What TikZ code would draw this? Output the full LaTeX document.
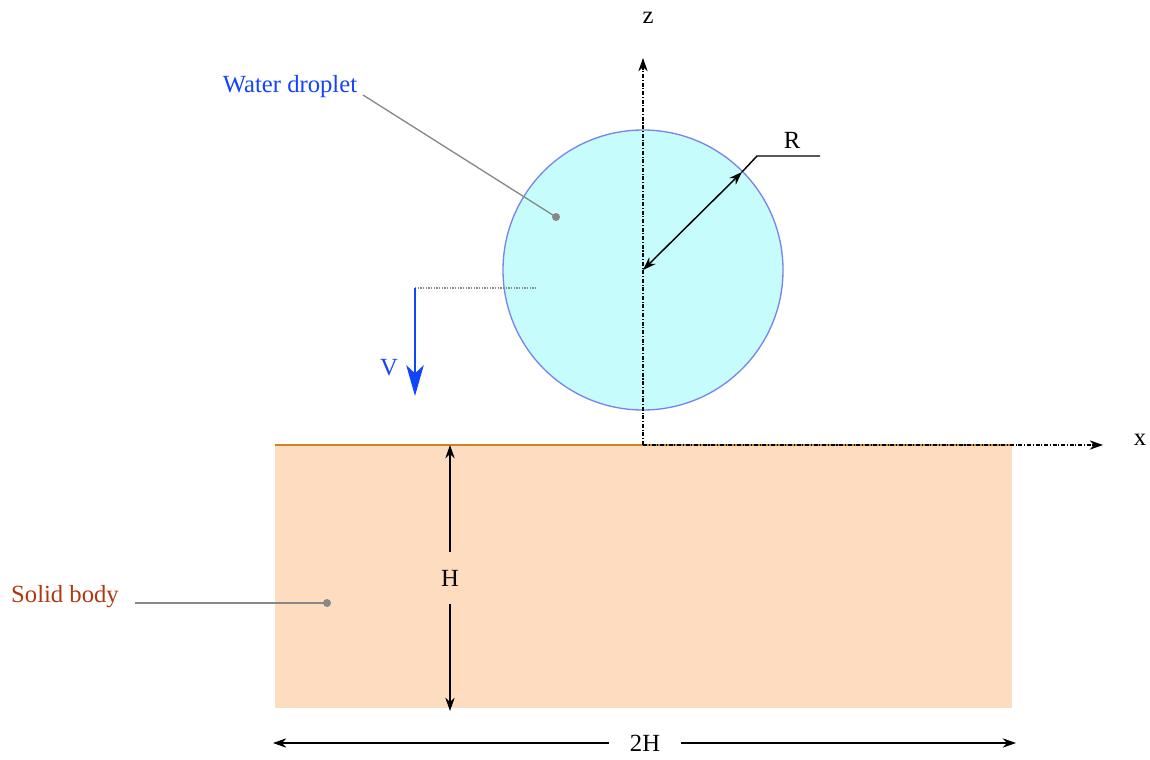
\documentclass[tikz,border=0pt]{standalone}
\usepackage{fontspec}
\setmainfont{Liberation Serif}
\usetikzlibrary{arrows.meta}
\definecolor{dropfill}{RGB}{198,252,252}
\definecolor{dropline}{RGB}{122,132,236}
\definecolor{solidfill}{RGB}{254,220,192}
\definecolor{solidedge}{RGB}{210,130,40}
\definecolor{waterblue}{RGB}{18,68,250}
\definecolor{solidred}{RGB}{176,56,16}
\definecolor{leadgray}{RGB}{136,136,136}
\tikzset{
  lbl/.style={font=\fontsize{18.5}{20}\selectfont, inner sep=0pt},
  axis/.style={black, line width=0.9pt, dash pattern=on 3pt off 1.3pt on 0.8pt off 1.3pt, -{Stealth[length=10pt,width=7pt]}},
  dim/.style={black, line width=1.1pt, -{Stealth[length=10pt,width=7pt]}},
  leader/.style={leadgray, line width=1pt},
  dotend/.style={circle, fill=leadgray, inner sep=0pt, minimum size=6pt}
}
\begin{document}
\begin{tikzpicture}[x=0.75pt,y=-0.75pt]
\useasboundingbox (0,0) rectangle (1150,760);
% solid body
\fill[solidfill] (275,445) rectangle (1012,708);
\draw[solidedge, line width=1.2pt] (275,445) -- (1012,445);
% droplet
\coordinate (O) at (643,270);
\draw[dropline, fill=dropfill, line width=1pt] (O) circle[radius=105pt];
% axes
\coordinate (A) at (643,445);
\coordinate (Ztip) at (643,58);
\coordinate (Xtip) at (1103,445);
\draw[axis] (A) -- (Ztip);
\draw[axis] (A) -- (Xtip);
\node[lbl] (zl) at (648,18) {z};
\node[lbl] (xl) at (1140,440) {x};
% radius
\coordinate (Rp) at (742,172);
\coordinate (Rk) at (757,156);
\coordinate (Re) at (820,156);
\draw[black, line width=1.1pt, {Stealth[length=10pt,width=7pt]}-{Stealth[length=10pt,width=7pt]}] (O) -- (Rp);
\draw[black, line width=1.1pt] (Rp) -- (Rk) -- (Re);
\node[lbl] (Rl) at (792,140) {R};
% velocity
\coordinate (Vs) at (415,288);
\coordinate (Ve) at (415,396);
\coordinate (Vd) at (537,288);
\draw[leadgray, line width=0.9pt, dash pattern=on 1pt off 1pt] (Vs) -- (Vd);
\draw[waterblue, line width=2pt, -{Stealth[length=23pt,width=13pt,inset=6pt]}] (Vs) -- (Ve);
\node[lbl, text=waterblue] (Vl) at (389,368) {V};
% H dimension
\coordinate (Ht) at (450,445);
\coordinate (Hb) at (450,711);
\node[lbl, minimum height=38pt] (Hl) at (450,578) {H};
\draw[dim] (Hl) -- (Ht);
\draw[dim] (Hl) -- (Hb);
% 2H dimension
\coordinate (Wl) at (273,743);
\coordinate (Wr) at (1016,743);
\node[lbl, minimum width=54pt] (WH) at (645,743) {2H};
\draw[dim] (WH) -- (Wl);
\draw[dim] (WH) -- (Wr);
% labels with leaders
\node[lbl, text=waterblue] (wd) at (290,87) {Water droplet};
\node[dotend] (wdd) at (556,217) {};
\coordinate (wds) at (363,95);
\draw[leader] (wds) -- (wdd.center);
\node[lbl, text=solidred] (sb) at (65,597) {Solid body};
\node[dotend] (sbd) at (327,603) {};
\coordinate (sbs) at (135,603);
\draw[leader] (sbs) -- (sbd.center);
\end{tikzpicture}
\end{document}
